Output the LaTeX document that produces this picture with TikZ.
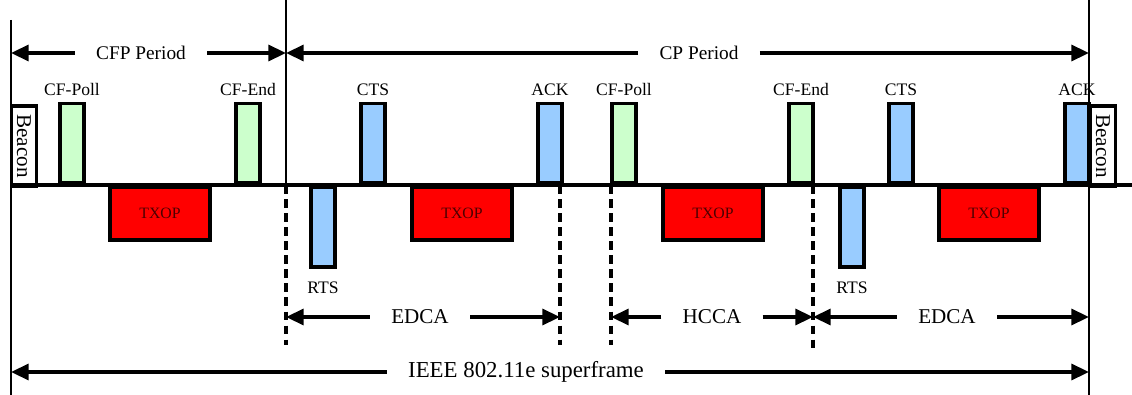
\documentclass[tikz,border=0pt]{standalone}
\usepackage{fontspec}
\setmainfont{Liberation Serif}
\usetikzlibrary{arrows.meta}

\definecolor{pollgreen}{RGB}{204,255,204}
\definecolor{rtsblue}{RGB}{153,204,255}
\definecolor{txopred}{RGB}{255,0,0}

\begin{document}
\begin{tikzpicture}[x=0.02cm,y=-0.02cm,
  ctlbox/.style={draw,line width=2pt,minimum width=0.48cm,minimum height=1.6cm,inner sep=0pt},
  upbox/.style={ctlbox,anchor=south},
  downbox/.style={ctlbox,anchor=north},
  txopbox/.style={draw,line width=2pt,fill=txopred,minimum width=2cm,minimum height=1.06cm,
    anchor=north,font=\fontsize{9}{10}\selectfont,text=black!70!red},
  beacon/.style={draw,line width=1.8pt,fill=white,rotate=-90,minimum width=1.6cm,
    minimum height=0.5cm,inner sep=0pt,font=\fontsize{12}{13}\selectfont},
  tag/.style={font=\fontsize{10}{11}\selectfont,label distance=1pt},
  span/.style={inner xsep=12pt,inner ysep=0pt,font=\fontsize{11}{12}\selectfont},
  period/.style={line width=2pt,-{Triangle[length=10pt,width=9pt]}},
  bound/.style={line width=1.3pt},
  slot/.style={line width=2pt,dash pattern=on 5pt off 3pt}]

  \useasboundingbox (0,0) rectangle (1132,395);

  % Specification of frames (position, etc.)
  \node[beacon] (bcnL) at (24,146) {Beacon};
  \node[upbox,fill=pollgreen,tag,label=above:CF-Poll] (poll1) at (72,185) {};
  \node[txopbox] (txop1) at (160,185) {TXOP};
  \node[upbox,fill=pollgreen,tag,label=above:CF-End] (end1) at (248,185) {};
  \node[downbox,fill=rtsblue,tag,label={[label distance=4pt]below:RTS}] (rts1) at (323,185) {};
  \node[upbox,fill=rtsblue,tag,label=above:CTS] (cts1) at (373,185) {};
  \node[txopbox] (txop2) at (462,185) {TXOP};
  \node[upbox,fill=rtsblue,tag,label=above:ACK] (ack1) at (550,185) {};
  \node[upbox,fill=pollgreen,tag,label=above:CF-Poll] (poll2) at (624,185) {};
  \node[txopbox] (txop3) at (713,185) {TXOP};
  \node[upbox,fill=pollgreen,tag,label=above:CF-End] (end2) at (801,185) {};
  \node[downbox,fill=rtsblue,tag,label={[label distance=4pt]below:RTS}] (rts2) at (852,185) {};
  \node[upbox,fill=rtsblue,tag,label=above:CTS] (cts2) at (901,185) {};
  \node[txopbox] (txop4) at (989,185) {TXOP};
  \node[upbox,fill=rtsblue,tag,label=above:ACK] (ack2) at (1077,185) {};
  \node[beacon] (bcnR) at (1103,146) {Beacon};

  % time axis and borders
  \coordinate (axL) at (11,185);
  \coordinate (axR) at (1132,185);
  \draw[line width=2pt] (axL) -- (axR);

  \coordinate (leftT) at (11,20);
  \coordinate (leftB) at (11,395);
  \coordinate (cfpT) at (286,0);
  \coordinate (cfpB) at (286,185);
  \coordinate (rightT) at (1089,0);
  \coordinate (rightB) at (1089,395);
  \draw[bound] (leftT) -- (leftB);
  \draw[bound] (cfpT) -- (cfpB);
  \draw[bound] (rightT) -- (rightB);

  \coordinate (d1T) at (286,185);  \coordinate (d1B) at (286,345);
  \coordinate (d2T) at (560,185);  \coordinate (d2B) at (560,345);
  \coordinate (d3T) at (611,185);  \coordinate (d3B) at (611,345);
  \coordinate (d4T) at (813,185);  \coordinate (d4B) at (813,350);
  \draw[slot] (d1T) -- (d1B);
  \draw[slot] (d2T) -- (d2B);
  \draw[slot] (d3T) -- (d3B);
  \draw[slot] (d4T) -- (d4B);

  % periods
  \node[span] (cfp) at (141,53) {CFP Period};
  \node[span] (cp) at (699,53) {CP Period};
  \node[span,font=\fontsize{12}{13}\selectfont] (edca1) at (420,317) {EDCA};
  \node[span,font=\fontsize{12}{13}\selectfont] (hcca) at (712,317) {HCCA};
  \node[span,font=\fontsize{12}{13}\selectfont] (edca2) at (947,317) {EDCA};
  \node[span,font=\fontsize{13}{14}\selectfont] (sframe) at (526,372) {IEEE 802.11e superframe};

  \begin{scope}[period]
    \draw (cfp) -- (11,53);
    \draw (cfp) -- (286,53);
    \draw (cp) -- (286,53);
    \draw (cp) -- (1089,53);
    \draw (edca1) -- (d1B |- edca1);
    \draw (edca1) -- (d2B |- edca1);
    \draw (hcca) -- (d3B |- hcca);
    \draw (hcca) -- (d4B |- hcca);
    \draw (edca2) -- (d4B |- edca2);
    \draw (edca2) -- (rightB |- edca2);
    \draw (sframe) -- (leftB |- sframe);
    \draw (sframe) -- (rightB |- sframe);
  \end{scope}

\end{tikzpicture}
\end{document}
